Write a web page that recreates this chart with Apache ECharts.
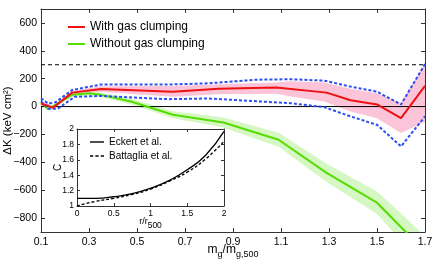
<!DOCTYPE html>
<html><head><meta charset="utf-8">
<script src="https://cdn.jsdelivr.net/npm/echarts@6/dist/echarts.min.js"></script>
<style>html,body{margin:0;padding:0;background:#fff}#c{width:436px;height:266px}</style>
</head><body><div id="c"></div>
<script>
// ---- data ----
const xTicks = [0.1, 0.3, 0.5, 0.7, 0.9, 1.1, 1.3, 1.5, 1.7];
const yTicks = [-800, -600, -400, -200, 0, 200, 400, 600];
const insetXTicks = [0, 0.5, 1, 1.5, 2];
const insetYTicks = [1, 1.2, 1.4, 1.6, 1.8, 2];

const withClump = [[0.1,22],[0.15,-8],[0.23,100],[0.35,126],[0.65,107],[0.84,128],[1.08,136],[1.29,100],[1.39,45],[1.5,15],[1.6,-83],[1.7,148]];
const withUpper = [[0.1,40],[0.15,8],[0.23,112],[0.35,145],[0.65,147],[0.84,160],[1.08,172],[1.14,182],[1.28,172],[1.39,128],[1.5,95],[1.6,28],[1.7,305]];
const withLower = [[0.1,5],[0.15,-22],[0.23,86],[0.35,106],[0.65,70],[0.84,88],[1.08,92],[1.14,72],[1.28,36],[1.39,-36],[1.5,-83],[1.6,-190],[1.7,-110]];
const blueUpper = [[0.1,60],[0.13,22],[0.16,30],[0.23,119],[0.35,158],[0.63,158],[0.8,167],[1.0,193],[1.14,196],[1.28,186],[1.39,143],[1.5,107],[1.6,15],[1.7,305]];
const blueLower = [[0.1,38],[0.13,-15],[0.17,-15],[0.24,70],[0.35,76],[0.63,53],[0.8,58],[1.0,38],[1.14,24],[1.28,-4],[1.39,-71],[1.5,-131],[1.6,-286],[1.7,-71]];

const noClump = [[0.1,30],[0.13,-19],[0.23,84],[0.3,95],[0.35,84],[0.475,36],[0.65,-59],[0.86,-114],[1.09,-238],[1.29,-476],[1.5,-690],[1.62,-900],[1.7,-1040]];
const noUpper = [[0.1,40],[0.13,-9],[0.23,96],[0.3,110],[0.35,101],[0.475,58],[0.65,-34],[0.86,-78],[1.09,-188],[1.29,-411],[1.5,-610],[1.62,-800],[1.7,-930]];
const noLower = [[0.1,20],[0.13,-29],[0.23,72],[0.3,80],[0.35,67],[0.475,14],[0.65,-84],[0.86,-150],[1.09,-288],[1.29,-541],[1.5,-770],[1.62,-1000],[1.7,-1150]];

const refLine = [[0.1,300],[1.7,300]];
const zeroLine = [[0.1,0],[1.7,0]];

const eckert = [[0,1.10],[0.25,1.10],[0.5,1.12],[0.75,1.16],[1.0,1.23],[1.25,1.33],[1.5,1.47],[1.75,1.66],[2.0,1.97]];
const battaglia = [[0,1.00],[0.25,1.06],[0.5,1.10],[0.75,1.15],[1.0,1.22],[1.25,1.32],[1.5,1.44],[1.75,1.61],[2.0,1.84]];

// ---- chart ----
const FONT = 'Liberation Sans';
const AX = '#333';
function band(upper, lower, color, z) {
  return {
    type: 'custom', xAxisIndex: 0, yAxisIndex: 0, silent: true, z: z, data: [0],
    renderItem: function (params, api) {
      const pts = upper.map(p => api.coord(p)).concat(lower.slice().reverse().map(p => api.coord(p)));
      const cs = params.coordSys;
      return {
        type: 'polygon', shape: { points: pts }, style: { fill: color },
        clipPath: { type: 'rect', shape: { x: cs.x, y: cs.y, width: cs.width, height: cs.height } }
      };
    }
  };
}
function valAxis(o) {
  return Object.assign({
    type: 'value', splitLine: { show: false },
    axisLine: { show: true, onZero: false, lineStyle: { color: AX, width: 1 } },
    axisTick: { show: true, inside: true, length: 4, lineStyle: { color: AX } },
    axisLabel: { show: false }
  }, o);
}
const mainLabel = { show: true, color: '#000', fontFamily: FONT, fontSize: 10.5 };
const insetLabel = { show: true, color: '#000', fontFamily: FONT, fontSize: 8.5 };
const fmtMinus = v => (v < 0 ? '\u2212' + Math.abs(v) : String(v));
const SOLID_ICON = 'path://M0,0h14v1.4h-14z';
const DASH_ICON = 'path://M0,0h3v1.4h-3zM5,0h3v1.4h-3zM10,0h3v1.4h-3z';

const option = {
  animation: false,
  backgroundColor: '#fff',
  grid: [
    { left: 41, right: 11, top: 9, bottom: 34, show: false, containLabel: false, outerBoundsMode: 'none' },
    { left: 77, right: 212, top: 129, bottom: 60, show: true, backgroundColor: '#fff', borderWidth: 0, z: 10,
      containLabel: false, outerBoundsMode: 'none' }
  ],
  legend: [
    { left: 63, top: 15, orient: 'vertical', itemWidth: 17, itemHeight: 2, itemGap: 3, icon: 'rect',
      data: ['With gas clumping', 'Without gas clumping'],
      textStyle: { fontFamily: FONT, fontSize: 12, color: '#000', lineHeight: 14 } },
    { left: 85, top: 131, orient: 'vertical', itemWidth: 14, itemHeight: 1.4, itemGap: 2, z: 20, symbolKeepAspect: false,
      data: [{ name: 'Eckert et al.', icon: SOLID_ICON }, { name: 'Battaglia et al.', icon: DASH_ICON }],
      textStyle: { fontFamily: FONT, fontSize: 10, color: '#000', lineHeight: 12 } }
  ],
  xAxis: [
    valAxis({ gridIndex: 0, position: 'bottom', min: 0.1, max: 1.7,
      axisTick: { show: true, inside: true, length: 4, lineStyle: { color: AX }, customValues: xTicks },
      axisLabel: Object.assign({}, mainLabel, { customValues: xTicks, margin: 5, formatter: v => v.toFixed(1) }),
      name: 'm{s|g}/m{s|g,500}', nameLocation: 'middle', nameGap: 9, nameMoveOverlap: false,
      nameTextStyle: { fontFamily: FONT, fontSize: 12, color: '#000',
        rich: { s: { fontFamily: FONT, fontSize: 9, color: '#000', padding: [9, 0, 0, 0] } } } }),
    valAxis({ gridIndex: 0, position: 'top', min: 0.1, max: 1.7,
      axisTick: { show: true, inside: true, length: 4, lineStyle: { color: AX }, customValues: xTicks } }),
    valAxis({ gridIndex: 1, position: 'bottom', min: 0, max: 2, interval: 0.5, z: 11,
      axisTick: { show: true, inside: true, length: 3, lineStyle: { color: AX } },
      axisLabel: Object.assign({}, insetLabel, { margin: 3 }),
      name: 'r/r{s|500}', nameLocation: 'middle', nameGap: 7, nameMoveOverlap: false,
      nameTextStyle: { fontFamily: FONT, fontSize: 9, color: '#000',
        rich: { s: { fontFamily: FONT, fontSize: 8.5, color: '#000', padding: [8, 0, 0, 0] } } } }),
    valAxis({ gridIndex: 1, position: 'top', min: 0, max: 2, interval: 0.5, z: 11,
      axisTick: { show: true, inside: true, length: 3, lineStyle: { color: AX } } })
  ],
  yAxis: [
    valAxis({ gridIndex: 0, position: 'left', min: -900, max: 700,
      axisTick: { show: true, inside: true, length: 4, lineStyle: { color: AX }, customValues: yTicks },
      axisLabel: Object.assign({}, mainLabel, { customValues: yTicks, margin: 4, formatter: fmtMinus }),
      name: 'ΔK (keV cm²)', nameLocation: 'middle', nameGap: 27, nameRotate: 90, nameMoveOverlap: false,
      nameTextStyle: { fontFamily: FONT, fontSize: 11.5, color: '#000' } }),
    valAxis({ gridIndex: 0, position: 'right', min: -900, max: 700,
      axisTick: { show: true, inside: true, length: 4, lineStyle: { color: AX }, customValues: yTicks } }),
    valAxis({ gridIndex: 1, position: 'left', min: 1, max: 2, interval: 0.2, z: 11,
      axisTick: { show: true, inside: true, length: 3, lineStyle: { color: AX } },
      axisLabel: Object.assign({}, insetLabel, { margin: 3, formatter: v => String(+v.toFixed(1)) }),
      name: 'C', nameLocation: 'middle', nameGap: 14, nameRotate: 90, nameMoveOverlap: false,
      nameTextStyle: { fontFamily: FONT, fontSize: 10, color: '#000' } }),
    valAxis({ gridIndex: 1, position: 'right', min: 1, max: 2, interval: 0.2, z: 11,
      axisTick: { show: true, inside: true, length: 3, lineStyle: { color: AX } } })
  ],
  series: [
    band(noUpper, noLower, '#d6f7c4', 1),
    band(withUpper, withLower, '#fbc4d9', 1),
    { type: 'line', name: 'zero', xAxisIndex: 0, yAxisIndex: 0, data: zeroLine, symbol: 'none', z: 2,
      lineStyle: { color: '#000', width: 1 } },
    { type: 'line', name: 'ref', xAxisIndex: 0, yAxisIndex: 0, data: refLine, symbol: 'none', z: 2,
      lineStyle: { color: '#000', width: 1, type: [4, 3] } },
    { type: 'line', name: 'Without gas clumping', xAxisIndex: 0, yAxisIndex: 0, data: noClump, symbol: 'none', z: 3,
      color: '#55dd00', lineStyle: { color: '#55dd00', width: 2 } },
    { type: 'line', name: 'blueU', xAxisIndex: 0, yAxisIndex: 0, data: blueUpper, symbol: 'none', z: 4,
      lineStyle: { color: '#2a4ef2', width: 2, type: [3, 2] } },
    { type: 'line', name: 'blueL', xAxisIndex: 0, yAxisIndex: 0, data: blueLower, symbol: 'none', z: 4,
      lineStyle: { color: '#2a4ef2', width: 2, type: [3, 2] } },
    { type: 'line', name: 'With gas clumping', xAxisIndex: 0, yAxisIndex: 0, data: withClump, symbol: 'none', z: 5,
      color: '#ee1111', lineStyle: { color: '#ee1111', width: 2 } },
    { type: 'line', name: 'Eckert et al.', xAxisIndex: 2, yAxisIndex: 2, data: eckert, symbol: 'none', smooth: true, z: 12,
      color: '#000', lineStyle: { color: '#000', width: 1.3 } },
    { type: 'line', name: 'Battaglia et al.', xAxisIndex: 2, yAxisIndex: 2, data: battaglia, symbol: 'none', smooth: true, z: 12,
      color: '#000', lineStyle: { color: '#000', width: 1.3, type: [3, 2] } }
  ]
};
const chart = echarts.init(document.getElementById('c'), null, { renderer: 'canvas' });
chart.setOption(option);
</script></body></html>
